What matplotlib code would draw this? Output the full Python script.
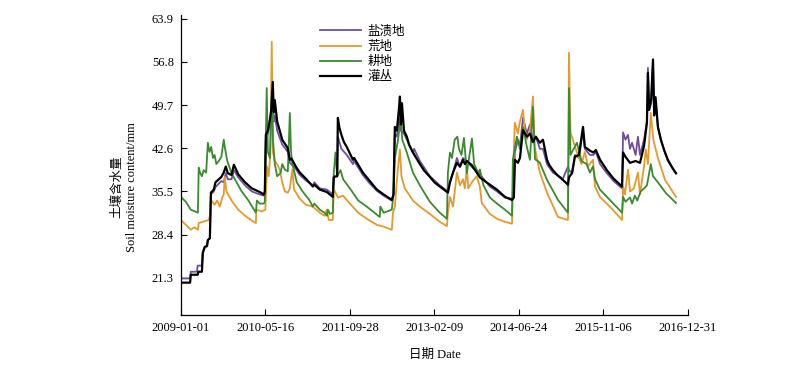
import matplotlib
matplotlib.use('Agg')
import matplotlib.pyplot as plt

plt.rcParams['font.family'] = ['Liberation Serif', 'Noto Sans CJK SC']
plt.rcParams['font.size'] = 9

# day index (days since 2009-01-01) and soil moisture (mm)
black_day = [0, 55, 59, 100, 104, 125, 130, 142, 155, 160, 172, 178, 195, 205, 225, 240, 254, 266, 278, 300,
             314, 340, 380, 420, 467, 491, 497, 503, 515, 527, 535, 544, 550, 556, 570, 600, 633, 645, 655, 680,
             704, 740, 781, 790, 822, 864, 899, 905, 925, 929, 938, 950, 965, 982, 1018, 1025, 1077, 1118, 1160, 1200,
             1248, 1258, 1266, 1278, 1290, 1296, 1302, 1308, 1320, 1337, 1350, 1373, 1414, 1440, 1473, 1500, 1532, 1580, 1592, 1610,
             1633, 1651, 1669, 1680, 1692, 1722, 1769, 1828, 1870, 1917, 1959, 1970, 1976, 1994, 2006, 2024, 2047, 2065, 2083, 2100,
             2124, 2142, 2166, 2180, 2201, 2230, 2260, 2290, 2296, 2314, 2331, 2355, 2379, 2390, 2420, 2440, 2455, 2480, 2520, 2560,
             2610, 2616, 2630, 2657, 2690, 2716, 2740, 2757, 2763, 2770, 2782, 2793, 2800, 2808, 2822, 2840, 2860, 2881, 2905, 2929]
black_val = [20.5, 20.5, 21.8, 21.8, 22.3, 22.3, 25.4, 26.4, 26.5, 27.5, 27.8, 35.3, 35.8, 37.0, 37.5, 37.9, 38.6, 39.6, 38.5, 38.2,
             39.9, 38.3, 37.0, 36.0, 35.4, 35.0, 35.5, 44.8, 45.5, 47.3, 49.0, 53.5, 48.5, 50.5, 47.0, 44.0, 42.6, 40.7, 40.9, 39.6,
             38.6, 37.6, 36.3, 36.6, 35.8, 35.4, 34.6, 37.9, 38.0, 47.6, 46.0, 44.8, 43.6, 42.8, 40.7, 41.0, 38.6, 37.2, 35.8, 35.0,
             34.1, 35.0, 46.1, 45.5, 49.0, 51.1, 46.5, 50.0, 45.5, 44.5, 43.2, 41.9, 40.0, 38.9, 37.9, 37.0, 36.3, 35.3, 37.0, 38.6,
             40.2, 39.6, 40.7, 40.0, 40.5, 39.8, 37.8, 36.6, 35.8, 34.6, 34.1, 34.5, 40.7, 40.2, 41.0, 45.6, 44.5, 45.0, 43.6, 44.5,
             43.5, 44.0, 40.7, 39.8, 39.0, 38.1, 37.4, 36.6, 37.8, 38.5, 41.2, 41.5, 46.1, 42.8, 42.2, 41.9, 42.3, 40.7, 39.0, 37.6,
             36.3, 41.9, 41.2, 40.2, 40.5, 40.2, 43.0, 46.8, 55.0, 48.9, 50.6, 57.2, 48.0, 51.0, 46.1, 44.0, 42.2, 40.7, 39.5, 38.5]

purple_day = [0, 55, 59, 95, 100, 125, 130, 142, 155, 160, 172, 178, 195, 205, 225, 240, 254, 266, 278, 300,
              314, 340, 380, 420, 467, 491, 497, 503, 515, 527, 535, 544, 550, 556, 570, 600, 633, 645, 680, 704,
              740, 781, 790, 822, 864, 899, 905, 925, 929, 950, 982, 1018, 1025, 1077, 1118, 1160, 1200, 1248, 1258, 1266,
              1278, 1290, 1296, 1302, 1320, 1337, 1373, 1380, 1414, 1473, 1532, 1580, 1592, 1610, 1633, 1651, 1669, 1692, 1722, 1769,
              1828, 1870, 1917, 1959, 1970, 1976, 1994, 2006, 2024, 2047, 2065, 2083, 2100, 2124, 2142, 2166, 2201, 2260, 2290, 2296,
              2314, 2331, 2355, 2379, 2390, 2420, 2440, 2455, 2480, 2520, 2560, 2610, 2616, 2630, 2645, 2657, 2669, 2690, 2704, 2716,
              2740, 2757, 2763, 2770, 2782, 2793, 2800, 2808, 2822, 2840, 2881, 2929]
purple_val = [21.2, 21.2, 22.3, 22.3, 23.3, 23.3, 25.4, 26.4, 26.5, 27.5, 27.8, 35.0, 35.5, 36.2, 36.8, 37.2, 37.0, 38.5, 37.5, 37.5,
              39.0, 37.8, 36.5, 35.5, 35.0, 34.8, 35.2, 44.0, 45.0, 46.5, 47.0, 50.0, 47.0, 48.0, 45.5, 43.2, 42.0, 40.2, 39.2, 38.2,
              37.3, 36.5, 37.0, 36.0, 35.8, 35.0, 37.9, 38.0, 44.5, 42.5, 41.5, 40.0, 40.5, 38.2, 36.8, 35.6, 34.8, 34.0, 35.0, 45.0,
              44.5, 47.5, 47.0, 45.5, 45.0, 44.0, 41.9, 42.5, 40.5, 38.0, 36.5, 35.5, 37.0, 38.6, 41.0, 39.5, 41.0, 40.5, 39.5, 38.3,
              36.3, 35.5, 34.5, 34.3, 35.0, 42.0, 44.0, 43.0, 47.6, 45.0, 46.5, 44.0, 44.5, 42.5, 42.5, 40.0, 38.6, 37.6, 39.6, 39.0,
              38.5, 41.5, 41.0, 45.5, 42.5, 41.5, 41.5, 42.0, 40.0, 38.5, 37.2, 36.0, 45.2, 44.0, 44.8, 42.5, 43.5, 41.5, 44.5, 41.5,
              44.0, 47.0, 55.8, 48.9, 50.0, 56.5, 48.0, 50.5, 46.1, 43.8, 40.5, 38.4]

green_day = [0, 30, 59, 101, 106, 115, 125, 135, 150, 160, 170, 180, 190, 200, 210, 225, 240, 254, 262, 275,
             300, 330, 360, 400, 444, 450, 467, 491, 497, 503, 508, 515, 527, 538, 545, 556, 570, 590, 600, 615,
             633, 645, 652, 660, 686, 720, 760, 781, 790, 822, 850, 864, 870, 882, 899, 905, 915, 925, 945, 960,
             1000, 1050, 1100, 1177, 1180, 1200, 1248, 1258, 1266, 1285, 1300, 1310, 1337, 1373, 1414, 1473, 1532, 1574, 1580, 1592,
             1604, 1620, 1636, 1645, 1660, 1675, 1692, 1722, 1735, 1760, 1769, 1790, 1828, 1870, 1917, 1959, 1964, 1988, 2006, 2024,
             2047, 2065, 2083, 2095, 2124, 2166, 2231, 2290, 2296, 2305, 2343, 2370, 2400, 2420, 2438, 2450, 2479, 2538, 2610, 2616,
             2630, 2657, 2669, 2686, 2700, 2720, 2740, 2757, 2780, 2793, 2822, 2870, 2929]
green_val = [34.6, 33.8, 32.5, 32.0, 39.4, 38.5, 38.0, 39.0, 38.6, 43.5, 42.0, 42.8, 41.0, 41.5, 40.0, 40.5, 41.2, 44.0, 42.5, 40.5,
             38.5, 37.0, 35.5, 34.0, 32.0, 34.0, 33.5, 33.5, 33.8, 44.0, 52.5, 42.0, 41.0, 52.0, 44.0, 40.0, 38.0, 38.5, 40.0, 39.1,
             38.8, 48.4, 42.0, 40.0, 37.0, 35.5, 34.1, 33.0, 33.5, 32.5, 32.0, 31.5, 32.5, 31.8, 32.0, 38.6, 41.9, 38.0, 39.0, 37.5,
             36.0, 34.0, 33.0, 31.3, 33.0, 32.0, 32.5, 35.0, 41.0, 44.0, 47.6, 44.0, 41.9, 38.6, 36.5, 33.8, 32.0, 31.0, 38.6, 41.9,
             41.0, 44.0, 44.5, 42.5, 41.5, 44.3, 38.5, 44.2, 40.0, 38.5, 39.1, 36.5, 34.5, 33.5, 32.5, 31.5, 40.7, 44.5, 42.5, 46.1,
             42.8, 40.7, 49.4, 40.8, 40.2, 37.4, 34.1, 32.0, 52.5, 41.5, 43.5, 40.5, 40.0, 38.6, 39.6, 37.5, 35.8, 34.1, 32.0, 34.6,
             33.8, 34.5, 33.5, 34.8, 34.0, 35.5, 36.0, 36.5, 40.0, 38.0, 37.0, 35.2, 33.6]

orange_day = [0, 30, 59, 80, 101, 106, 130, 165, 172, 178, 200, 215, 231, 245, 254, 260, 270, 300, 340, 380,
              420, 444, 447, 480, 500, 510, 520, 530, 538, 545, 556, 570, 586, 600, 615, 633, 645, 660, 670, 704,
              740, 781, 822, 850, 864, 875, 899, 905, 930, 960, 1000, 1049, 1100, 1160, 1200, 1248, 1255, 1266, 1280, 1296,
              1305, 1325, 1373, 1414, 1473, 1532, 1574, 1580, 1592, 1610, 1633, 1651, 1669, 1680, 1692, 1700, 1722, 1750, 1769, 1780,
              1828, 1870, 1917, 1959, 1970, 1976, 1994, 2006, 2024, 2035, 2047, 2065, 2083, 2092, 2124, 2166, 2231, 2290, 2296, 2305,
              2343, 2370, 2390, 2408, 2438, 2450, 2479, 2538, 2610, 2616, 2627, 2645, 2657, 2680, 2704, 2716, 2740, 2750, 2763, 2780,
              2795, 2822, 2864, 2929]
orange_val = [30.8, 30.0, 29.2, 29.6, 29.2, 30.3, 30.5, 30.8, 31.5, 34.1, 33.3, 34.0, 33.0, 34.5, 35.0, 37.9, 35.5, 34.0, 32.5, 31.5,
              30.7, 30.3, 32.5, 32.2, 32.5, 39.6, 38.0, 42.0, 60.1, 41.9, 40.5, 40.0, 39.0, 37.0, 35.5, 35.3, 36.0, 39.1, 35.8, 34.3,
              33.3, 33.0, 32.0, 31.5, 32.5, 30.8, 30.8, 35.8, 34.5, 34.8, 33.5, 32.0, 31.0, 30.0, 29.7, 29.2, 32.0, 33.0, 38.0, 42.4,
              38.0, 36.0, 34.0, 33.0, 31.8, 30.5, 29.8, 32.0, 34.6, 33.0, 38.6, 36.5, 37.5, 36.0, 39.6, 36.0, 37.0, 38.0, 36.3, 33.6,
              31.8, 31.0, 30.5, 30.2, 42.4, 46.8, 45.0, 47.0, 48.9, 45.5, 44.0, 45.5, 51.1, 43.0, 38.6, 35.3, 31.3, 30.8, 58.3, 45.2,
              41.9, 40.0, 42.0, 39.6, 40.7, 36.3, 34.6, 33.0, 30.8, 36.3, 35.0, 39.1, 35.5, 36.0, 38.6, 35.0, 39.6, 42.4, 40.0, 48.4,
              44.0, 41.0, 37.4, 34.6]

tick_pos = [0, 500, 1000, 1500, 2000, 2500, 3000]
tick_labels = ['2009-01-01', '2010-05-16', '2011-09-28', '2013-02-09', '2014-06-24', '2015-11-06', '2016-12-31']
y_ticks = [21.3, 28.4, 35.5, 42.6, 49.7, 56.8, 63.9]

fig = plt.figure(figsize=(8, 3.67), dpi=100)
ax = fig.add_axes([0.226, 0.142, 0.634, 0.817])

ax.plot(purple_day, purple_val, color='#6f4ea0', lw=1.3, label='盐渍地')
ax.plot(orange_day, orange_val, color='#e49a2e', lw=1.3, label='荒地')
ax.plot(green_day, green_val, color='#3b8a30', lw=1.3, label='耕地')
ax.plot(black_day, black_val, color='black', lw=1.6, label='灌丛')

ax.set_xlim(0, 3000)
ax.set_ylim(15.2, 64.5)
ax.set_xticks(tick_pos)
ax.set_xticklabels(tick_labels)
ax.set_yticks(y_ticks)
ax.set_yticklabels([f'{v:.1f}' for v in y_ticks])
ax.tick_params(direction='in', length=4, width=0.8, labelsize=9, pad=5)
ax.spines['top'].set_visible(False)
ax.spines['right'].set_visible(False)
for s in ['left', 'bottom']:
    ax.spines[s].set_linewidth(0.9)

ax.set_xlabel('日期 Date', fontsize=9, labelpad=11)
fig.text(0.147, 0.49, '土壤含水量', rotation=90, ha='center', va='center', fontsize=9)
fig.text(0.165, 0.49, 'Soil moisture content/mm', rotation=90, ha='center', va='center', fontsize=9)

ax.legend(loc='upper left', bbox_to_anchor=(0.26, 0.99), frameon=False, fontsize=9,
          handlelength=3.3, labelspacing=0.25, handletextpad=0.5, borderaxespad=0.2)

fig.savefig('out.png', dpi=100)
